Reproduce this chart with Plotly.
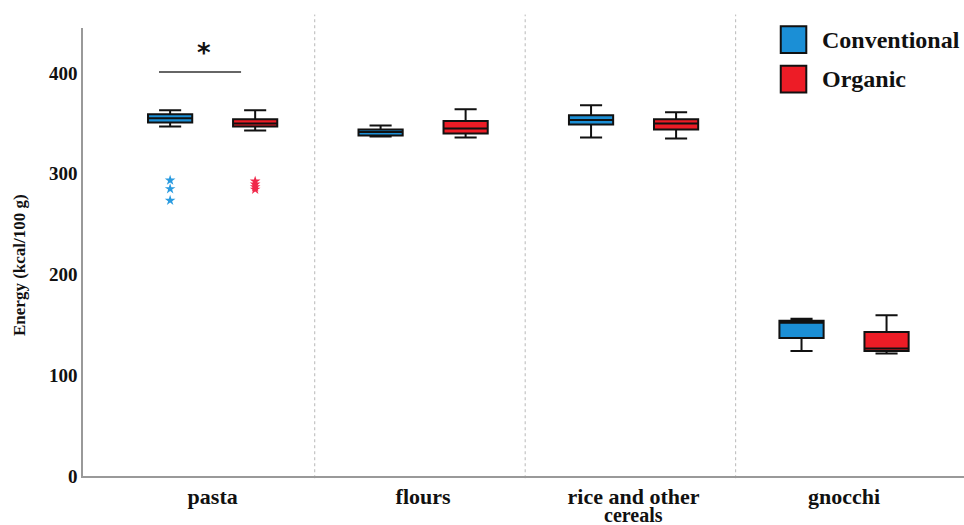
import plotly.graph_objects as go

# Energy content (kcal/100 g) by product category and farming type
categories = ["pasta", "flours", "rice and other", "gnocchi"]
category_second_lines = ["", "", "cereals", ""]

conv_lower = [347, 337, 336, 124]
conv_q1 = [351, 338, 349, 137]
conv_median = [355, 341.5, 353.5, 152]
conv_q3 = [359, 344, 358, 154]
conv_upper = [363, 348, 368, 156]

org_lower = [343, 336, 335, 121.5]
org_q1 = [347, 340, 344, 124]
org_median = [350, 345, 350, 126.5]
org_q3 = [354, 352.5, 354, 143]
org_upper = [363, 364, 361, 159.5]

# extreme values shown as stars (pasta only)
conv_outliers = [293.5, 285, 273.5]
org_outliers = [292.5, 289.5, 287, 284.5]

significance_y = 401

BLUE = "#1b8fd6"
RED = "#ed1c26"
FONT = "Liberation Serif"
OFFSET = 0.202
BOX_W = 0.21

fig = go.Figure()

for i in range(len(categories)):
    for pos, color, name, lo, q1, med, q3, hi in [
        (i - OFFSET, BLUE, "Conventional", conv_lower, conv_q1, conv_median, conv_q3, conv_upper),
        (i + OFFSET, RED, "Organic", org_lower, org_q1, org_median, org_q3, org_upper),
    ]:
        fig.add_trace(go.Box(
            x=[pos], q1=[q1[i]], median=[med[i]], q3=[q3[i]],
            lowerfence=[lo[i]], upperfence=[hi[i]],
            width=BOX_W, whiskerwidth=0.5,
            fillcolor=color, line=dict(color="#111111", width=2),
            name=name, showlegend=False, boxpoints=False,
        ))

fig.add_trace(go.Scatter(
    x=[-OFFSET] * len(conv_outliers), y=conv_outliers, mode="markers",
    marker=dict(symbol="star", size=8, color="#2a9be0"),
    showlegend=False, hoverinfo="y",
))
fig.add_trace(go.Scatter(
    x=[OFFSET] * len(org_outliers), y=org_outliers, mode="markers",
    marker=dict(symbol="star", size=8, color="#f0284a"),
    showlegend=False, hoverinfo="y",
))

shapes = []
# dashed separators between categories
for k in range(len(categories) - 1):
    shapes.append(dict(
        type="line", xref="x", yref="paper", x0=k + 0.485, x1=k + 0.485, y0=-0.005, y1=1.03,
        line=dict(color="#b8b8b8", width=1, dash="dot"), layer="below",
    ))
# significance bar over pasta
shapes.append(dict(
    type="line", xref="x", yref="y", x0=-0.255, x1=0.135,
    y0=significance_y, y1=significance_y, line=dict(color="#333333", width=1.3),
))

# legend swatches
legend_items = [("Conventional", BLUE, 0.974), ("Organic", RED, 0.886)]
annotations = []
for label, color, yc in legend_items:
    shapes.append(dict(
        type="rect", xref="paper", yref="paper",
        x0=0.792, x1=0.821, y0=yc - 0.03, y1=yc + 0.03,
        fillcolor=color, line=dict(color="#111111", width=2),
    ))
    annotations.append(dict(
        xref="paper", yref="paper", x=0.836, y=yc, text=label, showarrow=False,
        xanchor="left", yanchor="middle",
        font=dict(family=FONT, size=24, color="#111111", weight="bold"),
    ))

# second line of long category names, set tight under the tick label
for i, extra in enumerate(category_second_lines):
    if extra:
        annotations.append(dict(
            xref="x", yref="paper", x=i, y=-0.087, text=extra, showarrow=False,
            xanchor="center", yanchor="middle", borderpad=0,
            font=dict(family=FONT, size=20, color="#111111", weight="bold"),
        ))

annotations.append(dict(
    xref="x", yref="y", x=-0.04, y=significance_y + 2, text="*", showarrow=False,
    xanchor="center", yanchor="bottom",
    font=dict(family="DejaVu Sans", size=26, color="#111111", weight="bold"),
))

# y-axis title
annotations.append(dict(
    xref="paper", yref="paper", x=-0.0715, y=0.471, text="Energy (kcal/100 g)",
    showarrow=False, textangle=-90, xanchor="center", yanchor="middle",
    font=dict(family=FONT, size=17, color="#111111", weight="bold"),
))

fig.update_layout(
    width=964, height=525,
    margin=dict(l=83, r=0, t=28, b=49),
    paper_bgcolor="white", plot_bgcolor="white",
    showlegend=False,
    shapes=shapes, annotations=annotations,
    xaxis=dict(
        range=[-0.616, 3.57], tickmode="array",
        tickvals=list(range(len(categories))), ticktext=categories,
        showgrid=False, zeroline=False, showline=True, automargin=False,
        linecolor="#999999", linewidth=1.5, ticks="", ticklabelstandoff=0,
        tickfont=dict(family=FONT, size=22, color="#111111", weight="bold"),
    ),
    yaxis=dict(
        range=[0, 444.7], tickvals=[0, 100, 200, 300, 400],
        showgrid=False, zeroline=False, showline=True, automargin=False,
        linecolor="#999999", linewidth=1.5, ticks="",
        tickfont=dict(family=FONT, size=19, color="#111111", weight="bold"),
    ),
)

fig.write_html("out.html")
